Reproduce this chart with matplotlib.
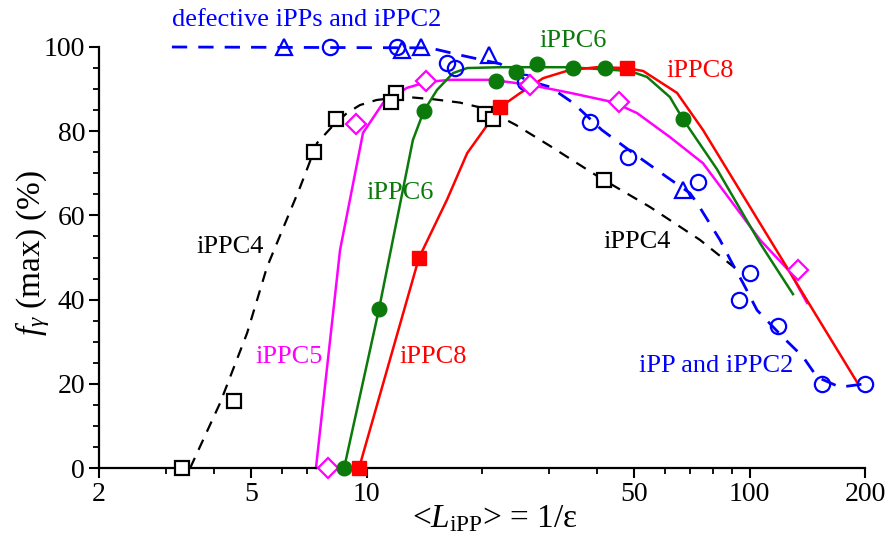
import matplotlib
matplotlib.use("Agg")
import matplotlib.pyplot as plt
from matplotlib.ticker import FixedLocator, NullFormatter, FixedFormatter

plt.rcParams['font.family'] = ['Liberation Serif', 'DejaVu Serif']
plt.rcParams['mathtext.fontset'] = 'custom'
plt.rcParams['mathtext.rm'] = 'Liberation Serif'
plt.rcParams['mathtext.it'] = 'Liberation Serif:italic'

# ---- data ----
ippc4_x = [3.3, 4.5, 7.3, 8.3, 11.9, 11.6, 20.4, 21.4, 41.6]
ippc4_y = [0, 16, 75, 83, 89, 87, 84, 83, 68.5]
ippc4_fit_x = [3.46, 4.14, 4.87, 5.49, 6.7, 7.42, 8.2, 8.88, 9.6, 10.6, 11.7, 13.2, 14.9, 17.5, 20.3,
               24.5, 30.1, 40.4, 54.9, 74.1, 91.6]
ippc4_fit_y = [0, 15.4, 32, 47.7, 66.7, 77.2, 81.5, 84.3, 86.2, 87.4, 87.9, 88.0, 87.6, 86.8, 85.4,
               81.5, 76.5, 69.1, 62, 54.2, 47.5]

ipp_circ_x = [8, 12, 16.2, 17.0, 25.9, 38.3, 48.1, 73.3, 100.2, 93.8, 118.6, 154.5, 200]
ipp_circ_y = [100, 100, 96.2, 95, 91.7, 82.2, 73.9, 68, 46.3, 39.9, 33.7, 20, 20]
ipp_tri_x = [6.1, 12.4, 13.9, 20.9, 66.9]
ipp_tri_y = [100, 99.3, 100, 98.1, 66]
ipp_fit_x = [3.1, 14.6, 17.5, 22.3, 26, 30.1, 34.6, 41.1, 49.6, 60.8, 69.8, 72.8, 83.6, 89.9, 96.1,
             104.5, 122, 137.8, 149.9, 172, 200]
ipp_fit_y = [100, 99.8, 98.1, 96, 92.2, 90.5, 86.7, 80.3, 74.8, 69.1, 65.3, 63, 54.2, 48.7, 43.9,
             37.5, 31.1, 26.4, 21.6, 19.2, 20]

ippc6_x = [8.73, 10.77, 14.1, 21.8, 24.5, 27.8, 34.6, 41.9, 66.9]
ippc6_y = [0, 37.8, 84.8, 91.9, 94, 96, 95, 95, 82.9]
ippc6_fit_x = [8.73, 10.77, 13.2, 14.1, 15.26, 16.8, 18.3, 22.3, 33.8, 48.6, 53.9, 61.9, 66.9, 82.1, 106.4, 129.7]
ippc6_fit_y = [0, 37.8, 77.9, 84.8, 89.8, 93.8, 95.0, 95.2, 95.2, 94.3, 92.9, 88.1, 82.9, 71.0, 53.4, 41.3]

ippc8_x = [9.55, 13.69, 22.3, 47.8]
ippc8_y = [0, 49.9, 85.7, 95]
ippc8_fit_x = [9.55, 13.69, 16.2, 18.3, 22.3, 25.1, 28.9, 33.8, 39.9, 47.8, 52.7, 64.6, 75.5, 190.6]
ippc8_fit_y = [0, 49.9, 63.7, 74.8, 85.7, 89.0, 92.6, 94.5, 95.2, 95, 94.3, 89.1, 80.3, 20.4]

ippc5_x = [7.93, 9.38, 14.28, 26.7, 45.6, 133.7]
ippc5_y = [0, 81.7, 91.9, 91, 86.9, 47]
ippc5_fit_x = [7.37, 8.52, 9.04, 9.78, 11.03, 12.74, 14.4, 16.5, 21.2, 26.7, 34.0, 44.0, 50.8, 61.9,
               75.5, 106.4, 127.4, 141.2]
ippc5_fit_y = [0, 51.8, 63.7, 79.6, 86.7, 90.3, 91.7, 92.2, 92.2, 91, 89.1, 86.9, 84.3, 78.6,
               72.4, 54.2, 46.6, 39.2]

x_major = [2, 5, 10, 50, 100, 200]
x_major_labels = ['2', '5', '10', '50', '100', '200']
x_minor = [3, 4, 6, 7, 8, 9, 20, 30, 40, 60, 70, 80, 90]
y_major = [0, 20, 40, 60, 80, 100]

BLUE = '#0000FF'
GREEN = '#0B7A0B'
RED = '#FF0000'
MAG = '#FF00FF'

fig = plt.figure(figsize=(8.91, 5.36), dpi=100)
ax = fig.add_axes([99 / 891, 1 - 468 / 536, (865 - 99) / 891, (468 - 47) / 536])
ax.set_xscale('log')
ax.set_xlim(2, 200)
ax.set_ylim(0, 100)

# fitted curves
ax.plot(ippc4_fit_x, ippc4_fit_y, color='black', lw=1.6, dashes=(5, 4), clip_on=False, zorder=2)
ax.plot(ipp_fit_x, ipp_fit_y, color=BLUE, lw=2.0, dashes=(5.5, 4), clip_on=False, zorder=2)
ax.plot(ippc5_fit_x, ippc5_fit_y, color=MAG, lw=1.8, clip_on=False, zorder=2)
ax.plot(ippc6_fit_x, ippc6_fit_y, color=GREEN, lw=1.8, clip_on=False, zorder=2)
ax.plot(ippc8_fit_x, ippc8_fit_y, color=RED, lw=1.8, clip_on=False, zorder=2)

# markers
ax.plot(ippc4_x, ippc4_y, ls='none', marker='s', ms=9.5, mfc='white', mec='black', mew=1.6,
        clip_on=False, zorder=4)
ax.plot(ipp_circ_x, ipp_circ_y, ls='none', marker='o', ms=11, mfc='none', mec=BLUE, mew=1.6,
        clip_on=False, zorder=4)
ax.plot(ipp_tri_x, ipp_tri_y, ls='none', marker='^', ms=11, mfc='none', mec=BLUE, mew=1.6,
        clip_on=False, zorder=4)
ax.plot(ippc5_x, ippc5_y, ls='none', marker='D', ms=10, mfc='white', mec=MAG, mew=1.6,
        clip_on=False, zorder=4)
ax.plot(ippc6_x, ippc6_y, ls='none', marker='o', ms=10.5, mfc=GREEN, mec=GREEN,
        clip_on=False, zorder=5)
ax.plot(ippc8_x, ippc8_y, ls='none', marker='s', ms=10.5, mfc=RED, mec=RED,
        clip_on=False, zorder=5)

# annotations
fs = 19
ax.text(3.10, 106.4, 'defective iPPs and iPPC2', color=BLUE, fontsize=fs, ha='left', va='center')
ax.text(34.6, 101.5, 'iPPC6', color=GREEN, fontsize=fs, ha='center', va='center')
ax.text(74.1, 94.3, 'iPPC8', color=RED, fontsize=fs, ha='center', va='center')
ax.text(50.8, 53.7, 'iPPC4', color='black', fontsize=fs, ha='center', va='center')
ax.text(81.9, 24.2, 'iPP and iPPC2', color=BLUE, fontsize=fs, ha='center', va='center')
ax.text(4.39, 52.5, 'iPPC4', color='black', fontsize=fs, ha='center', va='center')
ax.text(12.24, 65.3, 'iPPC6', color=GREEN, fontsize=fs, ha='center', va='center')
ax.text(6.28, 26.4, 'iPPC5', color=MAG, fontsize=fs, ha='center', va='center')
ax.text(14.9, 26.4, 'iPPC8', color=RED, fontsize=fs, ha='center', va='center')

# axes styling
for s in ['top', 'right']:
    ax.spines[s].set_visible(False)
for s in ['left', 'bottom']:
    ax.spines[s].set_linewidth(1.6)

ax.xaxis.set_major_locator(FixedLocator(x_major))
ax.xaxis.set_major_formatter(FixedFormatter(x_major_labels))
ax.xaxis.set_minor_locator(FixedLocator(x_minor))
ax.xaxis.set_minor_formatter(NullFormatter())
ax.yaxis.set_major_locator(FixedLocator(y_major))
ax.yaxis.set_minor_locator(FixedLocator(list(range(0, 101, 5))))

ax.tick_params(axis='both', which='major', direction='out', length=7, width=1.5, labelsize=20, pad=3)
ax.tick_params(axis='both', which='minor', direction='out', length=4, width=1.3)

fig.text(33 / 891, 1 - 253 / 536, r'$f_{\gamma}$ (max) (%)', fontsize=24, rotation=90,
         ha='center', va='center')
fig.text(495 / 891, 1 - 519 / 536, r'<$L_{\rm iPP}$> = 1/ε', fontsize=24,
         ha='center', va='center')

fig.savefig('out.png', dpi=100)
